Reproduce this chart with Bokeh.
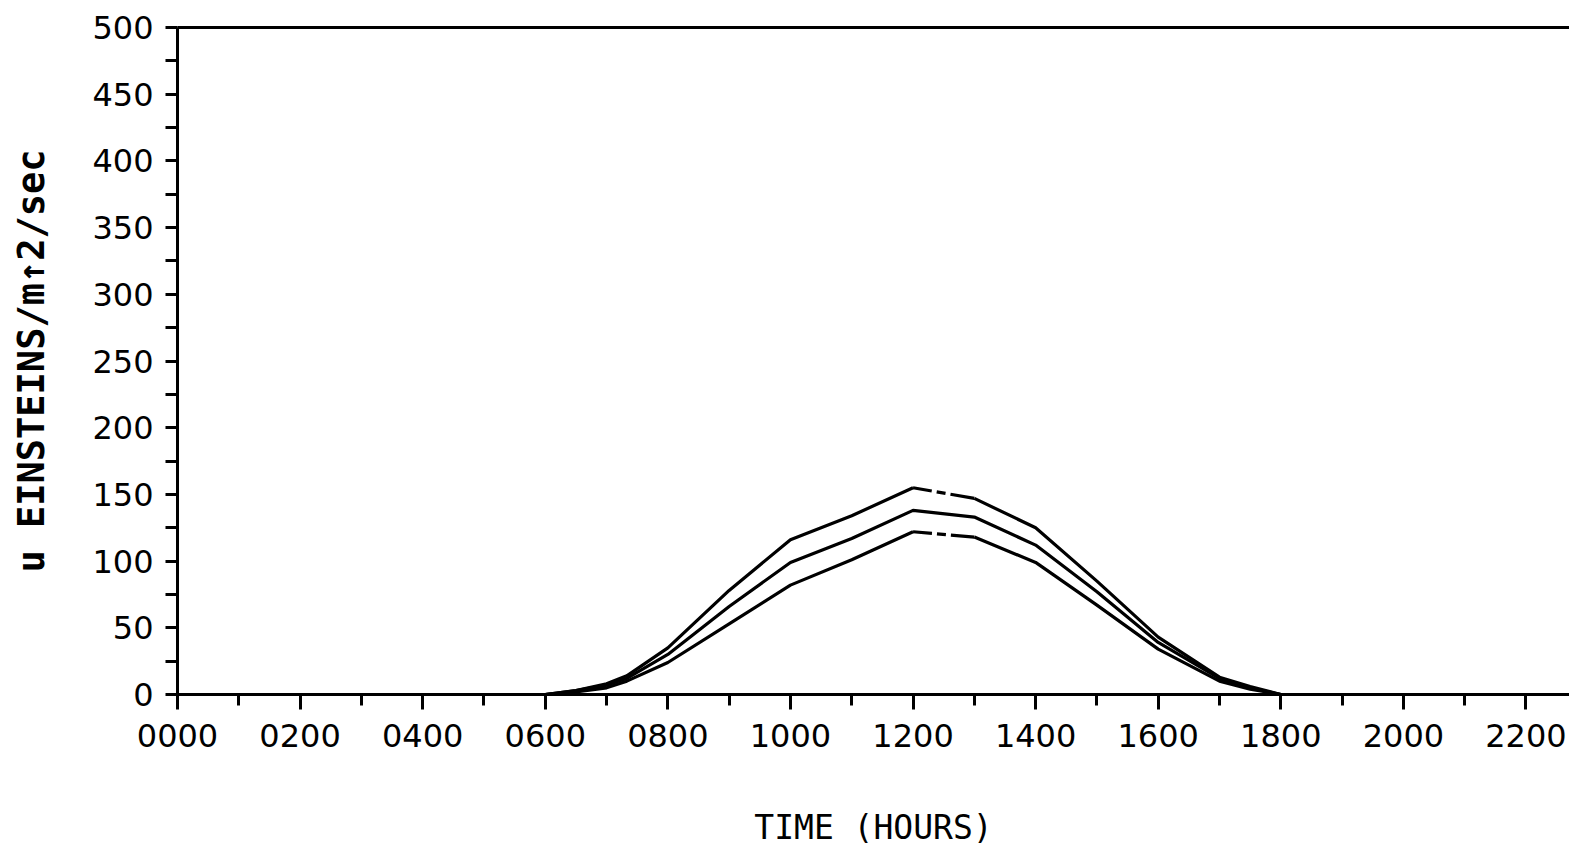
from bokeh.plotting import figure
from bokeh.models import FixedTicker, LinearAxis, Range1d
from bokeh.embed import file_html
from bokeh.resources import INLINE

# time of day in hours
hours = [0, 6, 6.5, 7, 7.33, 8, 9, 10, 11, 12, 13, 14, 15, 16, 17, 17.5, 18, 23]
upper = [0, 0, 3, 8, 14, 35, 78, 116, 134, 155, 147, 125, 85, 43, 13, 6, 0, 0]
middle = [0, 0, 3, 7, 12, 30, 66, 99, 117, 138, 133, 112, 77, 39, 12, 5, 0, 0]
lower = [0, 0, 2, 5, 10, 24, 53, 82, 101, 122, 118, 99, 67, 34, 10, 4, 0, 0]

x_major = [0, 2, 4, 6, 8, 10, 12, 14, 16, 18, 20, 22]
x_tick_labels = ["0000", "0200", "0400", "0600", "0800", "1000",
                 "1200", "1400", "1600", "1800", "2000", "2200"]
x_minor = list(range(0, 24))
y_major = [0, 50, 100, 150, 200, 250, 300, 350, 400, 450, 500]
y_minor = [25, 75, 125, 175, 225, 275, 325, 375, 425, 475]

TICK_FONT = "DejaVu Sans"
LABEL_FONT = "DejaVu Sans Mono"

p = figure(width=1569, height=850,
           x_range=Range1d(0, 22.71), y_range=Range1d(0, 500),
           output_backend="svg", toolbar_location=None,
           min_border_left=177, min_border_right=0,
           min_border_top=27, min_border_bottom=156)
p.outline_line_color = None
p.xgrid.visible = False
p.ygrid.visible = False
p.background_fill_color = "white"
p.border_fill_color = "white"

# x axis
xa = p.xaxis[0]
xa.ticker = FixedTicker(ticks=x_major, minor_ticks=x_minor)
xa.major_label_overrides = {t: l for t, l in zip(x_major, x_tick_labels)}
xa.axis_line_width = 3
xa.axis_line_color = "black"
xa.major_tick_in = 0
xa.major_tick_out = 15
xa.minor_tick_in = 0
xa.minor_tick_out = 11
xa.major_tick_line_width = 3
xa.minor_tick_line_width = 3
xa.major_label_text_font = TICK_FONT
xa.major_label_text_font_size = "32px"
xa.major_label_text_color = "black"
xa.major_label_standoff = 14
xa.axis_label = "TIME (HOURS)"
xa.axis_label_text_font = LABEL_FONT
xa.axis_label_text_font_size = "33px"
xa.axis_label_text_font_style = "normal"
xa.axis_label_text_color = "black"
xa.axis_label_text_line_height = 0.6
xa.axis_label_standoff = 58

# y axis
ya = p.yaxis[0]
ya.ticker = FixedTicker(ticks=y_major, minor_ticks=y_minor)
ya.axis_line_width = 3
ya.axis_line_color = "black"
ya.major_tick_in = 0
ya.major_tick_out = 12
ya.minor_tick_in = 0
ya.minor_tick_out = 12
ya.major_tick_line_width = 3
ya.minor_tick_line_width = 3
ya.major_label_text_font = TICK_FONT
ya.major_label_text_font_size = "32px"
ya.major_label_text_color = "black"
ya.major_label_standoff = 12
ya.axis_label = "u EINSTEINS/m\u21912/sec"
ya.axis_label_text_font = LABEL_FONT
ya.axis_label_text_font_size = "37px"
ya.axis_label_text_font_style = "bold"
ya.axis_label_text_color = "black"
ya.axis_label_standoff = 36

# top border line
top = LinearAxis(ticker=FixedTicker(ticks=[]), axis_line_width=3,
                 major_label_text_font_size="0px", major_tick_out=0,
                 minor_tick_out=0)
p.add_layout(top, "above")

i12 = hours.index(12)
i13 = hours.index(13)

for ys, dashed in ((upper, True), (middle, False), (lower, True)):
    if dashed:
        p.line(hours[:i12 + 1], ys[:i12 + 1], line_color="black", line_width=3.2)
        p.line(hours[i12:i13 + 1], ys[i12:i13 + 1], line_color="black",
               line_width=3.2, line_dash="19 5 9 5 100")
        p.line(hours[i13:], ys[i13:], line_color="black", line_width=3.2)
    else:
        p.line(hours, ys, line_color="black", line_width=3.2)

open("out.html", "w").write(file_html(p, INLINE))
